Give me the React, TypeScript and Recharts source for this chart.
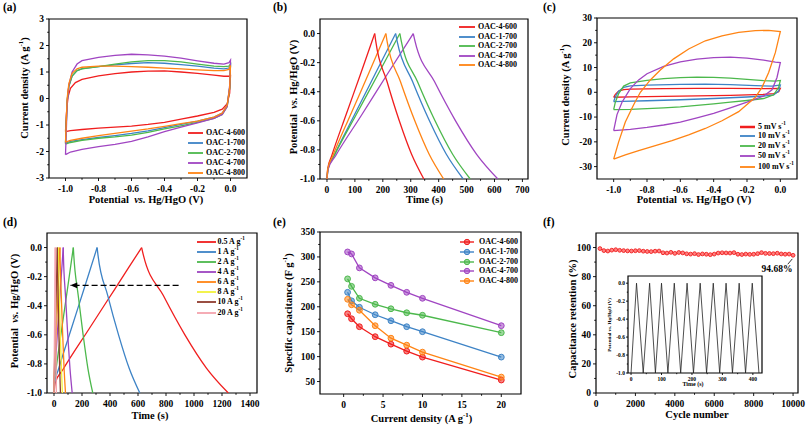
import React from 'react';
import { LineChart, Line, XAxis, YAxis, ReferenceArea } from 'recharts';

const FONT = '"Liberation Serif", "Times New Roman", Times, serif';

// ---------------- (a) CV curves of the five samples ----------------
const cvA_names = ['OAC-4-600', 'OAC-1-700', 'OAC-2-700', 'OAC-4-700', 'OAC-4-800'];
const cvA_colors = ['#f01e1e', '#3d83c6', '#4cb84c', '#a045c2', '#ff8414'];
const cvA_600 = [[-1, -1.25], [-0.995, -0.6], [-0.985, 0.05], [-0.97, 0.38], [-0.94, 0.6], [-0.9, 0.72], [-0.8, 0.85], [-0.7, 0.94], [-0.6, 1.0], [-0.5, 1.03], [-0.4, 1.04], [-0.3, 1.0], [-0.2, 0.95], [-0.1, 0.88], [-0.04, 0.84], [-0.01, 0.84], [0, 0.86], [-0.005, 0.2], [-0.02, -0.2], [-0.05, -0.4], [-0.1, -0.52], [-0.2, -0.66], [-0.3, -0.78], [-0.4, -0.9], [-0.5, -0.98], [-0.6, -1.04], [-0.7, -1.08], [-0.8, -1.12], [-0.9, -1.17], [-0.97, -1.21], [-1, -1.25]];
const cvA_1700 = [[-1, -1.68], [-0.995, -0.9], [-0.99, -0.1], [-0.98, 0.45], [-0.96, 0.85], [-0.93, 1.05], [-0.9, 1.13], [-0.8, 1.2], [-0.7, 1.27], [-0.6, 1.32], [-0.5, 1.35], [-0.4, 1.33], [-0.3, 1.28], [-0.2, 1.22], [-0.1, 1.15], [-0.04, 1.12], [-0.01, 1.15], [0, 1.25], [-0.005, 0.4], [-0.02, -0.25], [-0.05, -0.55], [-0.1, -0.7], [-0.2, -0.85], [-0.3, -0.98], [-0.4, -1.1], [-0.5, -1.22], [-0.6, -1.32], [-0.7, -1.4], [-0.8, -1.47], [-0.9, -1.55], [-0.97, -1.62], [-1, -1.68]];
const cvA_2700 = [[-1, -1.72], [-0.995, -0.9], [-0.99, -0.1], [-0.98, 0.45], [-0.96, 0.85], [-0.93, 1.05], [-0.9, 1.12], [-0.8, 1.2], [-0.7, 1.3], [-0.6, 1.38], [-0.5, 1.43], [-0.4, 1.43], [-0.3, 1.38], [-0.2, 1.3], [-0.1, 1.22], [-0.04, 1.2], [-0.01, 1.22], [0, 1.3], [-0.005, 0.4], [-0.02, -0.3], [-0.05, -0.6], [-0.1, -0.75], [-0.2, -0.9], [-0.3, -1.03], [-0.4, -1.15], [-0.5, -1.28], [-0.6, -1.38], [-0.7, -1.45], [-0.8, -1.5], [-0.9, -1.58], [-0.97, -1.66], [-1, -1.72]];
const cvA_4700 = [[-1, -2.12], [-0.995, -1.2], [-0.99, -0.2], [-0.98, 0.5], [-0.96, 1.0], [-0.93, 1.3], [-0.9, 1.43], [-0.8, 1.55], [-0.7, 1.63], [-0.6, 1.67], [-0.5, 1.65], [-0.4, 1.6], [-0.3, 1.52], [-0.2, 1.42], [-0.1, 1.33], [-0.04, 1.3], [-0.01, 1.35], [0, 1.45], [-0.005, 0.5], [-0.02, -0.3], [-0.05, -0.6], [-0.1, -0.75], [-0.2, -0.92], [-0.3, -1.08], [-0.4, -1.25], [-0.5, -1.45], [-0.6, -1.62], [-0.7, -1.73], [-0.8, -1.82], [-0.9, -1.92], [-0.97, -2.02], [-1, -2.12]];
const cvA_4800 = [[-1, -1.65], [-0.995, -0.8], [-0.99, 0], [-0.98, 0.55], [-0.96, 0.95], [-0.93, 1.12], [-0.9, 1.18], [-0.8, 1.22], [-0.7, 1.22], [-0.6, 1.2], [-0.5, 1.18], [-0.4, 1.15], [-0.3, 1.12], [-0.2, 1.08], [-0.1, 1.05], [-0.04, 1.05], [-0.01, 1.1], [0, 1.25], [-0.005, 0.4], [-0.02, -0.25], [-0.05, -0.55], [-0.1, -0.7], [-0.2, -0.85], [-0.3, -0.95], [-0.4, -1.05], [-0.5, -1.15], [-0.6, -1.23], [-0.7, -1.32], [-0.8, -1.4], [-0.9, -1.5], [-0.97, -1.58], [-1, -1.65]];
const cvA_loops = [cvA_600, cvA_1700, cvA_2700, cvA_4700, cvA_4800];

// ---------------- (b) GCD of the five samples ----------------
const gcd_chargeV = [-1, -0.93, -0.84, -0.56, -0.28, 0];
const gcd_dischV = [0, -0.05, -0.33, -0.6, -0.83, -1];
const gcdB_chargeT = [
  [0, 2.5, 17, 68, 120, 171],
  [0, 3.5, 25, 98, 172, 246],
  [0, 4, 26, 104, 183, 261],
  [0, 4.5, 31, 124, 216, 309],
  [0, 3, 21, 84, 148, 211],
];
const gcdB_dischT = [
  [171, 174.5, 215, 259, 303, 347],
  [246, 251, 306.5, 367, 427.5, 488],
  [261, 266, 324, 387, 450, 513],
  [309, 315, 385, 460.5, 536, 612],
  [211, 215, 263, 314.5, 366, 418],
];

// ---------------- (c) CV at different scan rates ----------------
const cvC_labels = ['5', '10', '20', '50', '100'];
const cvC_colors = ['#f01e1e', '#3d83c6', '#4cb84c', '#a045c2', '#ff8414'];
const cvC_5 = [[-1, -2], [-0.99, -0.8], [-0.97, 0.5], [-0.94, 1.1], [-0.9, 1.3], [-0.7, 1.5], [-0.5, 1.6], [-0.3, 1.55], [-0.1, 1.5], [0, 1.6], [-0.01, 0.2], [-0.04, -0.5], [-0.1, -0.8], [-0.3, -1.2], [-0.5, -1.45], [-0.7, -1.65], [-0.9, -1.85], [-1, -2]];
const cvC_10 = [[-1, -3.8], [-0.99, -1.8], [-0.97, 0.5], [-0.94, 2], [-0.9, 2.6], [-0.8, 2.9], [-0.6, 3.2], [-0.45, 3.3], [-0.3, 3.1], [-0.15, 2.7], [-0.05, 2.5], [0, 2.9], [-0.01, 0.5], [-0.04, -1], [-0.1, -1.5], [-0.2, -1.9], [-0.4, -2.5], [-0.6, -3], [-0.8, -3.4], [-0.95, -3.7], [-1, -3.8]];
const cvC_20 = [[-1, -7], [-0.99, -4], [-0.97, -0.5], [-0.94, 2.5], [-0.9, 3.8], [-0.8, 4.8], [-0.7, 5.5], [-0.6, 5.9], [-0.5, 6.1], [-0.4, 6], [-0.3, 5.7], [-0.2, 5.2], [-0.1, 4.7], [-0.03, 4.5], [0, 4.8], [-0.01, 2], [-0.04, -1], [-0.1, -2.5], [-0.2, -3.3], [-0.3, -4], [-0.4, -4.7], [-0.5, -5.3], [-0.6, -5.9], [-0.7, -6.3], [-0.8, -6.6], [-0.9, -6.9], [-1, -7]];
const cvC_50 = [[-1, -15.5], [-0.98, -9], [-0.95, -4], [-0.9, 1.5], [-0.85, 5], [-0.8, 7.5], [-0.7, 10.5], [-0.6, 12.3], [-0.5, 13.4], [-0.4, 14], [-0.3, 14.2], [-0.2, 13.8], [-0.1, 13], [-0.03, 12.2], [0, 12], [-0.02, 6], [-0.05, 1], [-0.1, -1.5], [-0.2, -4], [-0.3, -6.3], [-0.4, -8.5], [-0.5, -10.3], [-0.6, -12], [-0.7, -13.2], [-0.8, -14.2], [-0.9, -15], [-1, -15.5]];
const cvC_100 = [[-1, -27], [-0.97, -20], [-0.93, -12], [-0.88, -5], [-0.84, 0], [-0.78, 5], [-0.72, 9], [-0.64, 13.5], [-0.55, 17.5], [-0.45, 20.8], [-0.35, 22.8], [-0.25, 24.2], [-0.15, 24.9], [-0.07, 25], [0, 24.5], [-0.03, 16], [-0.07, 8], [-0.11, 2], [-0.15, -2], [-0.25, -7.8], [-0.35, -11.5], [-0.45, -14.6], [-0.55, -17.2], [-0.65, -19.5], [-0.75, -21.5], [-0.85, -23.5], [-0.93, -25.3], [-1, -27]];
const cvC_loops = [cvC_5, cvC_10, cvC_20, cvC_50, cvC_100];
const cvC_widths = [2, 1.3, 1.3, 1.3, 1.3];

// ---------------- (d) GCD of OAC-4-700 at different currents ----------------
const gcdD_labels = ['0.5', '1', '2', '4', '6', '8', '10', '20'];
const gcdD_colors = ['#f01e1e', '#3d83c6', '#4cb84c', '#9c45c0', '#ff8414', '#f2f23a', '#8f3b2e', '#f4a3ad'];
const gcdD_chargeT = [
  [0, 9, 63, 250, 438, 626],
  [0, 4.5, 31, 123, 216, 308],
  [0, 2, 14, 55, 97, 138],
  [0, 1, 7, 26, 46, 66],
  [0, 0.6, 4, 17, 29, 42],
  [0, 0.5, 3, 12, 22, 31],
  [0, 0.4, 2.4, 10, 17, 24],
  [0, 0.15, 0.9, 3.6, 6.3, 9],
];
const gcdD_dischT = [
  [626, 638, 781, 935, 1090, 1245],
  [308, 314, 384, 461, 537, 613],
  [138, 141, 173, 208, 242, 277],
  [66, 67, 82, 98, 114, 130],
  [42, 43, 52, 62, 72, 82],
  [31, 31.6, 38, 45, 53, 60],
  [24, 24.4, 29.5, 35, 40.5, 46],
  [9, 9.2, 11, 13, 15, 17],
];
const arrowD = [[890, -0.26], [116, -0.26]];

// ---------------- (e) specific capacitance ----------------
const capX = [0.5, 1, 2, 4, 6, 8, 10, 20];
const cap_4600 = [186, 176, 160, 140, 125, 111, 99, 53];
const cap_1700 = [229, 212, 199, 184, 172, 160, 150, 99];
const cap_2700 = [256, 241, 217, 205, 196, 188, 183, 148];
const cap_4700 = [310, 306, 278, 258, 243, 229, 217, 162];
const cap_4800 = [215, 204, 193, 162, 137, 123, 109, 59];
const capSeries = [cap_4600, cap_1700, cap_2700, cap_4700, cap_4800];

// ---------------- (f) cycling stability ----------------
const cycF = [200, 400, 600, 800, 1000, 1200, 1400, 1600, 1800, 2000, 2200, 2400, 2600, 2800, 3000, 3200, 3400, 3600, 3800, 4000, 4200, 4400, 4600, 4800, 5000, 5200, 5400, 5600, 5800, 6000, 6200, 6400, 6600, 6800, 7000, 7200, 7400, 7600, 7800, 8000, 8200, 8400, 8600, 8800, 9000, 9200, 9400, 9600, 9800, 10000];
const retF = [99.3, 97.9, 97.6, 98.2, 98.5, 98.1, 97.9, 97.7, 97.6, 97.8, 97.9, 97.5, 97.3, 97.2, 97.5, 97.6, 96.4, 96.2, 96.7, 96.0, 96.6, 96.3, 95.7, 95.5, 95.8, 95.2, 95.6, 95.4, 95.1, 95.5, 96.2, 96.4, 96.3, 96.2, 96.5, 95.4, 95.2, 95.5, 95.3, 95.4, 95.8, 96.5, 96.0, 95.9, 95.8, 96.1, 95.6, 95.4, 95.5, 94.68];
const leaderF = [[9730, 88.5], [9960, 92.2]];
const insetT = [0, 18, 40, 61, 80, 100, 121, 142, 163, 184, 205, 227, 248, 270, 291, 312, 333, 355, 376, 398, 420];
const insetV = [-1, 0, -1, 0, -1, 0, -1, 0, -1, 0, -1, 0, -1, 0, -1, 0, -1, 0, -1, 0, -1];

// ---------------- helpers ----------------
const pts = (a: number[][]) => a.map(([x, y]) => ({ x, y }));
const zip = (t: number[], v: number[]) => t.map((x, i) => ({ x, y: v[i] }));

type Box = { x0: number; x1: number; y0: number; y1: number };
const YW = 40, XH = 24, MT = 6, MR = 12;

const tickStyle = (fs: number) => ({ fontFamily: FONT, fontWeight: 700, fontSize: fs, fill: '#000' });

function makeXTick(majors: number[], fmt: (v: number) => string, fs: number, gap: number, len = 3, mlen = 1.8) {
  return (p: any) => {
    const v = Number(p.payload.value);
    const major = majors.some((m) => Math.abs(m - v) < 1e-9);
    return (
      <g>
        <line x1={p.x} x2={p.x} y1={p.y} y2={p.y + (major ? len : mlen)} stroke="#000" strokeWidth={0.9} />
        {major ? (
          <text x={p.x} y={p.y + gap} textAnchor="middle" dominantBaseline="central" style={tickStyle(fs)}>
            {fmt(v)}
          </text>
        ) : null}
      </g>
    );
  };
}
function makeYTick(majors: number[], fmt: (v: number) => string, fs: number, gap: number, len = 3, mlen = 1.8) {
  return (p: any) => {
    const v = Number(p.payload.value);
    const major = majors.some((m) => Math.abs(m - v) < 1e-9);
    return (
      <g>
        <line x1={p.x} x2={p.x - (major ? len : mlen)} y1={p.y} y2={p.y} stroke="#000" strokeWidth={0.9} />
        {major ? (
          <text x={p.x - gap} y={p.y} textAnchor="end" dominantBaseline="central" style={tickStyle(fs)}>
            {fmt(v)}
          </text>
        ) : null}
      </g>
    );
  };
}

type AxCfg = {
  xd: number[]; yd: number[];
  xMaj: number[]; xMin: number[]; yMaj: number[]; yMin: number[];
  xf: (v: number) => string; yf: (v: number) => string;
  fs?: number; xGap?: number; yGap?: number; yw?: number; xh?: number; len?: number; mlen?: number;
};
function axes(c: AxCfg) {
  const fs = c.fs ?? 9.5;
  return [
    <XAxis key="xa" type="number" dataKey="x" domain={c.xd} allowDataOverflow ticks={[...c.xMaj, ...c.xMin]} interval={0}
      axisLine={false} tickLine={false} tickSize={0} tickMargin={0} height={c.xh ?? XH}
      tick={makeXTick(c.xMaj, c.xf, fs, c.xGap ?? 11, c.len, c.mlen)} />,
    <YAxis key="ya" type="number" domain={c.yd} allowDataOverflow ticks={[...c.yMaj, ...c.yMin]} interval={0}
      axisLine={false} tickLine={false} tickSize={0} tickMargin={0} width={c.yw ?? YW}
      tick={makeYTick(c.yMaj, c.yf, fs, c.yGap ?? 5, c.len, c.mlen)} />,
    <ReferenceArea key="fr" x1={c.xd[0]} x2={c.xd[1]} y1={c.yd[0]} y2={c.yd[1]} fill="none" fillOpacity={0}
      stroke="#000" strokeWidth={1.2} ifOverflow="visible" />,
  ];
}

function pos(b: Box, yw = YW, xh = XH, mt = MT, mr = MR) {
  return { left: b.x0 - yw, top: b.y0 - mt, width: b.x1 - b.x0 + yw + mr, height: b.y1 - b.y0 + mt + xh };
}

const Sup = ({ children }: { children: React.ReactNode }) => (
  <span style={{ fontSize: '0.65em', verticalAlign: 'super', lineHeight: 0 }}>{children}</span>
);

function Txt({ x, y, fs, rot, children }: { x: number; y: number; fs: number; rot?: boolean; children: React.ReactNode }) {
  return (
    <div style={{ position: 'absolute', left: x, top: y, transform: `translate(-50%, -50%)${rot ? ' rotate(-90deg)' : ''}`,
      fontSize: fs, fontWeight: 700, whiteSpace: 'nowrap', lineHeight: 1, fontFamily: FONT, color: '#000' }}>
      {children}
    </div>
  );
}

function Letter({ x, y, t }: { x: number; y: number; t: string }) {
  return <div style={{ position: 'absolute', left: x, top: y, fontSize: 11.5, fontWeight: 700, lineHeight: 1, fontFamily: FONT }}>{t}</div>;
}

type LItem = { label: React.ReactNode; color: string; marker?: boolean; lw?: number };
function LegendBlock({ lineX, lineLen, textX, rows, items, fs = 8, lw = 1.8 }:
  { lineX: number; lineLen: number; textX: number; rows: number[]; items: LItem[]; fs?: number; lw?: number }) {
  return (
    <>
      {items.map((it, i) => (
        <React.Fragment key={i}>
          <svg style={{ position: 'absolute', left: lineX, top: rows[i] - 4 }} width={lineLen} height={8}>
            <line x1={0} x2={lineLen} y1={4} y2={4} stroke={it.color} strokeWidth={it.lw ?? lw} />
            {it.marker ? <circle cx={lineLen / 2} cy={4} r={2.7} fill={it.color} fillOpacity={0.55} stroke={it.color} strokeWidth={1} /> : null}
          </svg>
          <div style={{ position: 'absolute', left: textX, top: rows[i] - 6, height: 12, lineHeight: '12px', fontSize: fs,
            fontWeight: 700, fontFamily: FONT, whiteSpace: 'nowrap' }}>{it.label}</div>
        </React.Fragment>
      ))}
    </>
  );
}

const f1 = (v: number) => (Math.abs(v) < 1e-9 ? '0.0' : v.toFixed(1));
const f0 = (v: number) => String(Math.round(v));

const boxA: Box = { x0: 49, x1: 247, y0: 19, y1: 178 };
const boxB: Box = { x0: 320, x1: 528, y0: 19, y1: 179 };
const boxC: Box = { x0: 597, x1: 797, y0: 18, y1: 179 };
const boxD: Box = { x0: 47, x1: 257, y0: 233, y1: 393 };
const boxE: Box = { x0: 320, x1: 521, y0: 232, y1: 394 };
const boxF: Box = { x0: 596, x1: 798, y0: 233, y1: 393 };
const boxI: Box = { x0: 628, x1: 762, y0: 276, y1: 373 };

const cvX = { xd: [-1.1, 0.1], xMaj: [-1, -0.8, -0.6, -0.4, -0.2, 0], xMin: [-0.9, -0.7, -0.5, -0.3, -0.1], xf: f1 };
const vY = { yd: [-1, 0.1], yMaj: [-1, -0.8, -0.6, -0.4, -0.2, 0], yMin: [-0.9, -0.7, -0.5, -0.3, -0.1], yf: f1 };

export default function App() {
  const pA = pos(boxA), pB = pos(boxB), pC = pos(boxC), pD = pos(boxD), pE = pos(boxE), pF = pos(boxF);
  const pI = pos(boxI, 20, 14, 4, 6);
  const ballDot = (color: string) => (p: any) => (
    <circle key={`b${p.index}`} cx={p.cx} cy={p.cy} r={2.9} fill={color} fillOpacity={0.55} stroke={color} strokeWidth={1} />
  );
  const redDot = (p: any) => (
    <circle key={`r${p.index}`} cx={p.cx} cy={p.cy} r={1.9} fill="#ff8080" stroke="#f01e1e" strokeWidth={0.9} />
  );
  const arrowDot = (p: any) =>
    p.index === 1 ? (
      <polygon key="ah" points={`${p.cx},${p.cy} ${p.cx + 7},${p.cy - 2.8} ${p.cx + 7},${p.cy + 2.8}`} fill="#000" />
    ) : (
      <g key={`a${p.index}`} />
    );

  return (
    <div style={{ position: 'absolute', left: 0, top: 0, width: 810, height: 425, background: '#fff', overflow: 'hidden', fontFamily: FONT }}>
      {/* (a) */}
      <div style={{ position: 'absolute', left: pA.left, top: pA.top }}>
        <LineChart width={pA.width} height={pA.height} margin={{ top: MT, right: MR, bottom: 0, left: 0 }}>
          {axes({ ...cvX, yd: [-3, 3], yMaj: [-3, -2, -1, 0, 1, 2, 3], yMin: [-2.5, -1.5, -0.5, 0.5, 1.5, 2.5], yf: f0 })}
          {cvA_loops.map((l, i) => (
            <Line key={i} data={pts(l)} dataKey="y" type="linear" stroke={cvA_colors[i]} strokeWidth={1.3} dot={false} isAnimationActive={false} />
          ))}
        </LineChart>
      </div>
      <Letter x={3} y={2} t="(a)" />
      <Txt x={25} y={88} fs={10.5} rot>Current density (A g<Sup>-1</Sup>)</Txt>
      <Txt x={146} y={200} fs={10.5}>Potential&nbsp; <i>vs.</i> Hg/HgO (V)</Txt>
      <LegendBlock lineX={188} lineLen={15} textX={206} rows={[133.3, 143, 153, 163, 172.5]}
        items={cvA_names.map((n, i) => ({ label: n, color: cvA_colors[i] }))} />

      {/* (b) */}
      <div style={{ position: 'absolute', left: pB.left, top: pB.top }}>
        <LineChart width={pB.width} height={pB.height} margin={{ top: MT, right: MR, bottom: 0, left: 0 }}>
          {axes({ xd: [-25, 720], xMaj: [0, 100, 200, 300, 400, 500, 600, 700], xMin: [50, 150, 250, 350, 450, 550, 650], xf: f0, ...vY })}
          {gcdB_chargeT.map((t, i) => (
            <Line key={`c${i}`} data={zip(t, gcd_chargeV)} dataKey="y" type="monotone" stroke={cvA_colors[i]} strokeWidth={1.3} dot={false} isAnimationActive={false} />
          ))}
          {gcdB_dischT.map((t, i) => (
            <Line key={`d${i}`} data={zip(t, gcd_dischV)} dataKey="y" type="monotone" stroke={cvA_colors[i]} strokeWidth={1.3} dot={false} isAnimationActive={false} />
          ))}
        </LineChart>
      </div>
      <Letter x={273} y={2} t="(b)" />
      <Txt x={294} y={97} fs={10.5} rot>Potential&nbsp; <i>vs.</i> Hg/HgO (V)</Txt>
      <Txt x={424.5} y={200} fs={10.5}>Time (s)</Txt>
      <LegendBlock lineX={459} lineLen={16} textX={478} rows={[27.3, 36.7, 46, 55.7, 65.3]}
        items={cvA_names.map((n, i) => ({ label: n, color: cvA_colors[i] }))} />

      {/* (c) */}
      <div style={{ position: 'absolute', left: pC.left, top: pC.top }}>
        <LineChart width={pC.width} height={pC.height} margin={{ top: MT, right: MR, bottom: 0, left: 0 }}>
          {axes({ ...cvX, yd: [-35, 30], yMaj: [-30, -20, -10, 0, 10, 20, 30], yMin: [-25, -15, -5, 5, 15, 25], yf: f0 })}
          {cvC_loops.map((l, i) => (
            <Line key={i} data={pts(l)} dataKey="y" type="linear" stroke={cvC_colors[i]} strokeWidth={1.3} dot={false} isAnimationActive={false} />
          ))}
        </LineChart>
      </div>
      <Letter x={543} y={2} t="(c)" />
      <Txt x={566} y={95} fs={10.5} rot>Current density (A g<Sup>-1</Sup>)</Txt>
      <Txt x={694} y={200} fs={10.5}>Potential&nbsp; <i>vs.</i> Hg/HgO (V)</Txt>
      <LegendBlock lineX={740} lineLen={15} textX={758} rows={[126.7, 136.3, 146, 155.6, 166.5]}
        items={cvC_labels.map((n, i) => ({ label: <>{n} mV s<Sup>-1</Sup></>, color: cvC_colors[i], lw: cvC_widths[i] + 0.5 }))} />

      {/* (d) */}
      <div style={{ position: 'absolute', left: pD.left, top: pD.top }}>
        <LineChart width={pD.width} height={pD.height} margin={{ top: MT, right: MR, bottom: 0, left: 0 }}>
          {axes({ xd: [-50, 1450], xMaj: [0, 200, 400, 600, 800, 1000, 1200, 1400], xMin: [100, 300, 500, 700, 900, 1100, 1300], xf: f0, ...vY })}
          {gcdD_chargeT.map((t, i) => (
            <Line key={`c${i}`} data={zip(t, gcd_chargeV)} dataKey="y" type="monotone" stroke={gcdD_colors[i]} strokeWidth={1.3} dot={false} isAnimationActive={false} />
          ))}
          {gcdD_dischT.map((t, i) => (
            <Line key={`d${i}`} data={zip(t, gcd_dischV)} dataKey="y" type="monotone" stroke={gcdD_colors[i]} strokeWidth={1.3} dot={false} isAnimationActive={false} />
          ))}
          <Line data={pts(arrowD)} dataKey="y" type="linear" stroke="#000" strokeWidth={1.2} strokeDasharray="6 3" dot={arrowDot} isAnimationActive={false} />
        </LineChart>
      </div>
      <Letter x={3} y={217} t="(d)" />
      <Txt x={15} y={311} fs={10.5} rot>Potential&nbsp; <i>vs.</i> Hg/HgO (V)</Txt>
      <Txt x={150} y={416} fs={10.5}>Time (s)</Txt>
      <LegendBlock lineX={197} lineLen={19} textX={217.5} rows={[242, 251.9, 261.8, 271.8, 281.8, 292, 302, 312.5]}
        items={gcdD_labels.map((n, i) => ({ label: <>{n} A g<Sup>-1</Sup></>, color: gcdD_colors[i] }))} />

      {/* (e) */}
      <div style={{ position: 'absolute', left: pE.left, top: pE.top }}>
        <LineChart width={pE.width} height={pE.height} margin={{ top: MT, right: MR, bottom: 0, left: 0 }}>
          {axes({ xd: [-3, 22.5], xMaj: [0, 5, 10, 15, 20], xMin: [2.5, 7.5, 12.5, 17.5], xf: f0,
            yd: [25, 350], yMaj: [50, 100, 150, 200, 250, 300, 350], yMin: [75, 125, 175, 225, 275, 325], yf: f0 })}
          {capSeries.map((s, i) => (
            <Line key={i} data={zip(capX, s)} dataKey="y" type="linear" stroke={cvA_colors[i]} strokeWidth={1.3}
              dot={ballDot(cvA_colors[i])} isAnimationActive={false} />
          ))}
        </LineChart>
      </div>
      <Letter x={273} y={217} t="(e)" />
      <Txt x={289} y={313} fs={10.5} rot>Specific capacitance (F g<Sup>-1</Sup>)</Txt>
      <Txt x={421.5} y={419} fs={10.5}>Current density (A g<Sup>-1</Sup>)</Txt>
      <LegendBlock lineX={460} lineLen={14} textX={479} rows={[241.7, 251.5, 261.5, 271, 280.7]}
        items={cvA_names.map((n, i) => ({ label: n, color: cvA_colors[i], marker: true }))} lw={1.4} />

      {/* (f) */}
      <div style={{ position: 'absolute', left: pF.left, top: pF.top }}>
        <LineChart width={pF.width} height={pF.height} margin={{ top: MT, right: MR, bottom: 0, left: 0 }}>
          {axes({ xd: [0, 10250], xMaj: [0, 2000, 4000, 6000, 8000, 10000], xMin: [1000, 3000, 5000, 7000, 9000], xf: f0,
            yd: [0, 110], yMaj: [0, 20, 40, 60, 80, 100], yMin: [10, 30, 50, 70, 90], yf: f0 })}
          <Line data={zip(cycF, retF)} dataKey="y" type="linear" stroke="#f01e1e" strokeWidth={1} dot={redDot} isAnimationActive={false} />
          <Line data={pts(leaderF)} dataKey="y" type="linear" stroke="#000" strokeWidth={0.8} dot={false} isAnimationActive={false} />
        </LineChart>
      </div>
      <Letter x={543} y={217} t="(f)" />
      <Txt x={572.5} y={319} fs={10.5} rot>Capacitance retention (%)</Txt>
      <Txt x={697} y={415} fs={10.5}>Cycle number</Txt>
      <Txt x={777} y={270} fs={9.5}>94.68%</Txt>

      {/* inset */}
      <div style={{ position: 'absolute', left: pI.left, top: pI.top }}>
        <LineChart width={pI.width} height={pI.height} margin={{ top: 4, right: 6, bottom: 0, left: 0 }}>
          {axes({ xd: [-10, 430], xMaj: [0, 100, 200, 300, 400], xMin: [50, 150, 250, 350], xf: f0,
            yd: [-1, 0.08], yMaj: [-1, -0.8, -0.6, -0.4, -0.2, 0], yMin: [-0.9, -0.7, -0.5, -0.3, -0.1], yf: f1,
            fs: 5.5, xGap: 6, yGap: 3, yw: 20, xh: 14, len: 2, mlen: 1.2 })}
          <Line data={zip(insetT, insetV)} dataKey="y" type="linear" stroke="#222" strokeWidth={0.8} dot={false} isAnimationActive={false} />
        </LineChart>
      </div>
      <Txt x={609} y={325} fs={5} rot>Potential vs. Hg/HgO (V)</Txt>
      <Txt x={693} y={384} fs={6}>Time (s)</Txt>
    </div>
  );
}
